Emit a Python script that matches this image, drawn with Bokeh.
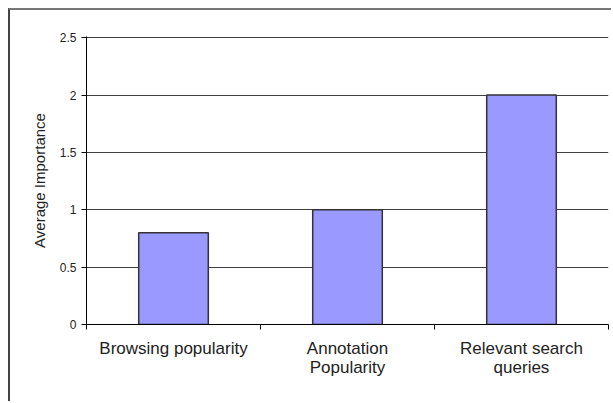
from bokeh.plotting import figure
from bokeh.models import FixedTicker, Range1d
from bokeh.embed import file_html
from bokeh.resources import INLINE
import numpy as np

categories = ["Browsing popularity", "Annotation\nPopularity", "Relevant search\nqueries"]
values = [0.8, 1.0, 2.0]
y_ticks = [0, 0.5, 1, 1.5, 2, 2.5]
y_tick_labels = ["0", "0.5", "1", "1.5", "2", "2.5"]

xc = list(np.arange(len(categories)) + 0.5)

p = figure(width=603, height=393, output_backend="svg", toolbar_location=None,
           x_range=Range1d(0, len(categories)), y_range=Range1d(0, 2.51),
           min_border_left=76, min_border_right=5, min_border_top=26, min_border_bottom=79,
           styles={"margin-left": "8px", "margin-top": "8px",
                   "border-left": "2px solid #444", "border-top": "2px solid #777"})
p.outline_line_color = None
p.background_fill_color = "white"

p.vbar(x=xc, top=values, width=0.4, fill_color="#9999FF", line_color="#333333", line_width=1.5)

# y axis
p.yaxis.ticker = FixedTicker(ticks=y_ticks)
p.yaxis.major_label_overrides = {t: l for t, l in zip(y_ticks, y_tick_labels)}
p.yaxis.axis_label = "Average Importance"
p.yaxis.axis_label_text_font = "Liberation Sans"
p.yaxis.axis_label_text_font_style = "normal"
p.yaxis.axis_label_text_font_size = "15px"
p.yaxis.axis_label_text_color = "#222222"
p.yaxis.axis_label_standoff = 9
p.yaxis.major_label_text_font = "Liberation Sans"
p.yaxis.major_label_text_font_size = "12px"
p.yaxis.major_label_text_color = "#222222"
p.yaxis.major_label_standoff = 5
p.yaxis.major_tick_out = 5
p.yaxis.major_tick_in = 0
p.yaxis.minor_tick_line_color = None
p.yaxis.axis_line_color = "black"

# x axis: labels at centers, tick marks at category boundaries
p.xaxis.ticker = FixedTicker(ticks=xc, minor_ticks=list(range(len(categories) + 1)))
p.xaxis.major_label_overrides = {x: c for x, c in zip(xc, categories)}
p.xaxis.major_tick_in = 0
p.xaxis.major_tick_out = 0
p.xaxis.minor_tick_in = 0
p.xaxis.minor_tick_out = 5
p.xaxis.minor_tick_line_color = "black"
p.xaxis.axis_line_color = "black"
p.xaxis.major_label_text_font = "Liberation Sans"
p.xaxis.major_label_text_font_size = "17px"
p.xaxis.major_label_text_color = "#222222"
p.xaxis.major_label_text_line_height = 1.05
p.xaxis.major_label_standoff = 9

p.xgrid.grid_line_color = None
p.ygrid.ticker = FixedTicker(ticks=y_ticks)
p.ygrid.grid_line_color = "#404040"
p.ygrid.grid_line_width = 1

open("out.html", "w").write(file_html(p, INLINE))
